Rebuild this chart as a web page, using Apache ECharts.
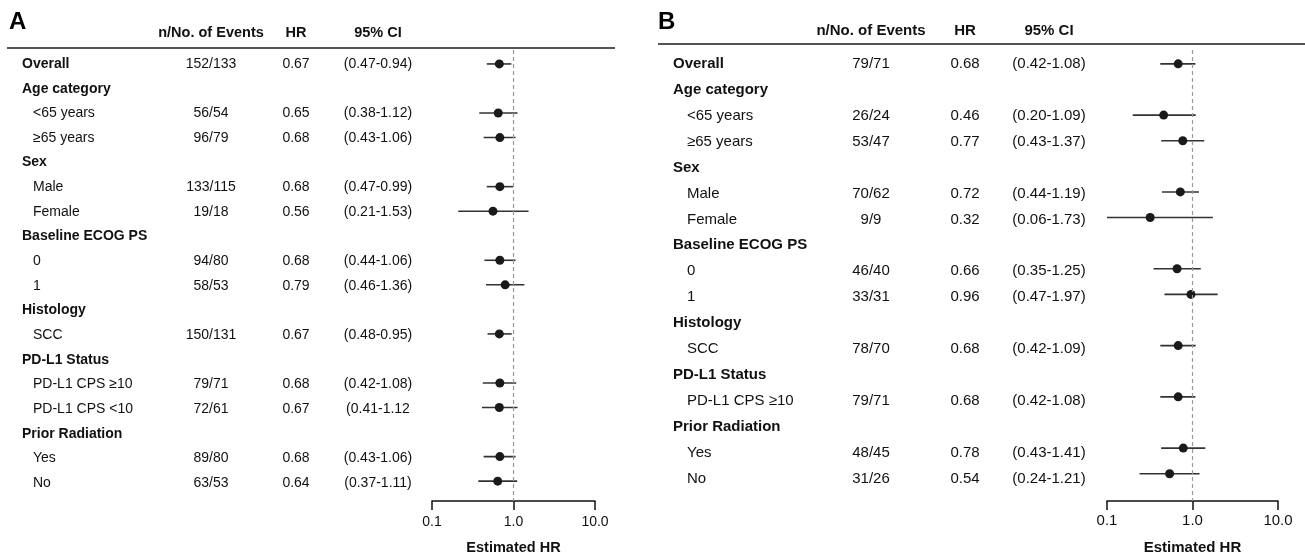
<!DOCTYPE html>
<html><head><meta charset="utf-8">
<script src="https://cdn.jsdelivr.net/npm/echarts@6/dist/echarts.min.js"></script>
<style>html,body{margin:0;padding:0;background:#fff}#c{width:1305px;height:560px}</style>
</head><body><div id="c"></div>
<script>
// ---------- DATA ----------
const headers = ['n/No. of Events', 'HR', '95% CI'];
const tickValues = [0.1, 1, 10];

const labelsA = ['Overall','Age category','<65 years','≥65 years','Sex','Male','Female','Baseline ECOG PS','0','1','Histology','SCC','PD-L1 Status','PD-L1 CPS ≥10','PD-L1 CPS <10','Prior Radiation','Yes','No'];
const groupA  = [1,1,0,0,1,0,0,1,0,0,1,0,1,0,0,1,0,0];
const nA  = ['152/133','','56/54','96/79','','133/115','19/18','','94/80','58/53','','150/131','','79/71','72/61','','89/80','63/53'];
const hrA = [0.67,null,0.65,0.68,null,0.68,0.56,null,0.68,0.79,null,0.67,null,0.68,0.67,null,0.68,0.64];
const loA = [0.47,null,0.38,0.43,null,0.47,0.21,null,0.44,0.46,null,0.48,null,0.42,0.41,null,0.43,0.37];
const hiA = [0.94,null,1.12,1.06,null,0.99,1.53,null,1.06,1.36,null,0.95,null,1.08,1.12,null,1.06,1.11];
const ciA = ['(0.47-0.94)','','(0.38-1.12)','(0.43-1.06)','','(0.47-0.99)','(0.21-1.53)','','(0.44-1.06)','(0.46-1.36)','','(0.48-0.95)','','(0.42-1.08)','(0.41-1.12','','(0.43-1.06)','(0.37-1.11)'];

const labelsB = ['Overall','Age category','<65 years','≥65 years','Sex','Male','Female','Baseline ECOG PS','0','1','Histology','SCC','PD-L1 Status','PD-L1 CPS ≥10','Prior Radiation','Yes','No'];
const groupB  = [1,1,0,0,1,0,0,1,0,0,1,0,1,0,1,0,0];
const nB  = ['79/71','','26/24','53/47','','70/62','9/9','','46/40','33/31','','78/70','','79/71','','48/45','31/26'];
const hrB = [0.68,null,0.46,0.77,null,0.72,0.32,null,0.66,0.96,null,0.68,null,0.68,null,0.78,0.54];
const loB = [0.42,null,0.20,0.43,null,0.44,0.06,null,0.35,0.47,null,0.42,null,0.42,null,0.43,0.24];
const hiB = [1.08,null,1.09,1.37,null,1.19,1.73,null,1.25,1.97,null,1.09,null,1.08,null,1.41,1.21];
const ciB = ['(0.42-1.08)','','(0.20-1.09)','(0.43-1.37)','','(0.44-1.19)','(0.06-1.73)','','(0.35-1.25)','(0.47-1.97)','','(0.42-1.09)','','(0.42-1.08)','','(0.43-1.41)','(0.24-1.21)'];

// ---------- LAYOUT ----------
const FONT = "'Liberation Sans', Arial, Helvetica, sans-serif";
const TXT = '#111';
const panels = [
  { letter:'A', labels:labelsA, group:groupA, n:nA, hr:hrA, lo:loA, hi:hiA, ci:ciA,
    left:0, textW:430, plotL:432, plotW:163, plotTop:50, plotBottom:503, rowY0:64, rowStep:24.65,
    xGroup:22, xSub:33, xN:211, xHR:296, xCI:378, fs:14, hfs:14.5, headerY:33, lineY:48, lineX1:7, lineX2:615,
    letterX:9, tickMargin:14, nameGap:39 },
  { letter:'B', labels:labelsB, group:groupB, n:nB, hr:hrB, lo:loB, hi:hiB, ci:ciB,
    left:655, textW:450, plotL:1107, plotW:171, plotTop:50, plotBottom:506, rowY0:64, rowStep:25.9,
    xGroup:18, xSub:32, xN:216, xHR:310, xCI:394, fs:15, hfs:15, headerY:31, lineY:44, lineX1:658, lineX2:1305,
    letterX:658, tickMargin:12, nameGap:39 }
];

const grid = [], xAxis = [], yAxis = [], series = [], graphic = [];

panels.forEach((p, k) => {
  const last = p.labels.length - 1;
  const minRow = (p.plotTop - p.rowY0) / p.rowStep;
  const maxRow = last + (p.plotBottom - (p.rowY0 + last * p.rowStep)) / p.rowStep;
  const top = p.plotTop, height = p.plotBottom - p.plotTop;
  const ti = k * 2, pi = k * 2 + 1;
  grid.push({ left: p.left, top, width: p.textW, height });
  grid.push({ left: p.plotL, top, width: p.plotW, height });
  xAxis.push({ gridIndex: ti, type: 'value', min: 0, max: p.textW, show: false });
  xAxis.push({
    gridIndex: pi, type: 'log', logBase: 10, min: 0.1, max: 10, position: 'bottom',
    axisLine: { show: true, onZero: false, lineStyle: { color: TXT, width: 1.5 } },
    axisTick: { show: true, inside: false, length: 9, lineStyle: { color: TXT, width: 1.5 }, customValues: tickValues },
    axisLabel: { show: true, margin: p.tickMargin, fontSize: p.fs, color: TXT, fontFamily: FONT,
      customValues: tickValues, formatter: v => Number(v).toFixed(1) },
    splitLine: { show: false },
    name: 'Estimated HR', nameLocation: 'middle', nameGap: p.nameGap,
    nameTextStyle: { fontSize: p.hfs, fontWeight: 'bold', color: TXT, fontFamily: FONT }
  });
  [ti, pi].forEach(g => yAxis.push({ gridIndex: g, type: 'value', min: minRow, max: maxRow, inverse: true, show: false }));

  const lab = (align, bold, t) => ({ show: true, position: 'inside', align, verticalAlign: 'middle',
    color: TXT, opacity: 1, textBorderWidth: 0, textShadowBlur: 0,
    fontSize: p.fs, fontWeight: bold ? 'bold' : 'normal', fontFamily: FONT, formatter: () => t });
  const textSeries = (items) => ({
    type: 'scatter', xAxisIndex: ti, yAxisIndex: ti, symbolSize: 0, silent: true,
    itemStyle: { color: '#000' }, data: items
  });
  series.push(textSeries(p.labels.map((t, i) => ({ value: [p.group[i] ? p.xGroup : p.xSub, i], label: lab('left', p.group[i], t) }))));
  series.push(textSeries(p.n.map((t, i) => ({ value: [p.xN, i], label: lab('center', false, t) })).filter((d, i) => p.n[i])));
  series.push(textSeries(p.hr.map((v, i) => ({ value: [p.xHR, i], label: lab('center', false, v == null ? '' : v.toFixed(2)) })).filter((d, i) => p.hr[i] != null)));
  series.push(textSeries(p.ci.map((t, i) => ({ value: [p.xCI, i], label: lab('center', false, t) })).filter((d, i) => p.ci[i])));

  // Reference dashed line at HR = 1
  series.push({
    type: 'scatter', xAxisIndex: pi, yAxisIndex: pi, data: [], z: 1, silent: true,
    markLine: { symbol: 'none', silent: true, label: { show: false }, animation: false,
      lineStyle: { type: [4, 3], color: '#999', width: 1.2 }, data: [{ xAxis: 1 }] }
  });
  // CI whiskers
  const ciData = [];
  p.hr.forEach((v, i) => { if (v != null) ciData.push([p.lo[i], p.hi[i], i]); });
  series.push({
    type: 'custom', xAxisIndex: pi, yAxisIndex: pi, z: 2, silent: true, data: ciData,
    encode: { x: [0, 1], y: 2 },
    renderItem: (params, api) => {
      const a = api.coord([api.value(0), api.value(2)]);
      const b = api.coord([api.value(1), api.value(2)]);
      const cs = params.coordSys;
      return { type: 'line', shape: { x1: Math.max(a[0], cs.x), y1: a[1], x2: Math.min(b[0], cs.x + cs.width), y2: b[1] },
        style: { stroke: '#333', lineWidth: 1.6 } };
    }
  });
  // Point estimates
  const ptData = [];
  p.hr.forEach((v, i) => { if (v != null) ptData.push([v, i]); });
  series.push({ type: 'scatter', xAxisIndex: pi, yAxisIndex: pi, z: 3, silent: true, data: ptData,
    symbol: 'circle', symbolSize: 9, itemStyle: { color: '#1a1a1a', opacity: 1 } });

  // Decorations: panel letter, column headers, header rule
  graphic.push({ type: 'text', left: p.letterX, top: 10, style: { text: p.letter, font: `bold 24px ${FONT}`, fill: '#000' } });
  [[p.xN, headers[0]], [p.xHR, headers[1]], [p.xCI, headers[2]]].forEach(([x, t]) => {
    graphic.push({ type: 'text', x: p.left + x, y: p.headerY,
      style: { text: t, font: `bold ${p.hfs}px ${FONT}`, fill: TXT, textAlign: 'center', textVerticalAlign: 'middle' } });
  });
  graphic.push({ type: 'line', shape: { x1: p.lineX1, y1: p.lineY, x2: p.lineX2, y2: p.lineY }, style: { stroke: '#555', lineWidth: 2 } });
});

const chart = echarts.init(document.getElementById('c'), null, { renderer: 'canvas' });
chart.setOption({ backgroundColor: '#fff', animation: false, grid, xAxis, yAxis, series, graphic });
</script></body></html>
